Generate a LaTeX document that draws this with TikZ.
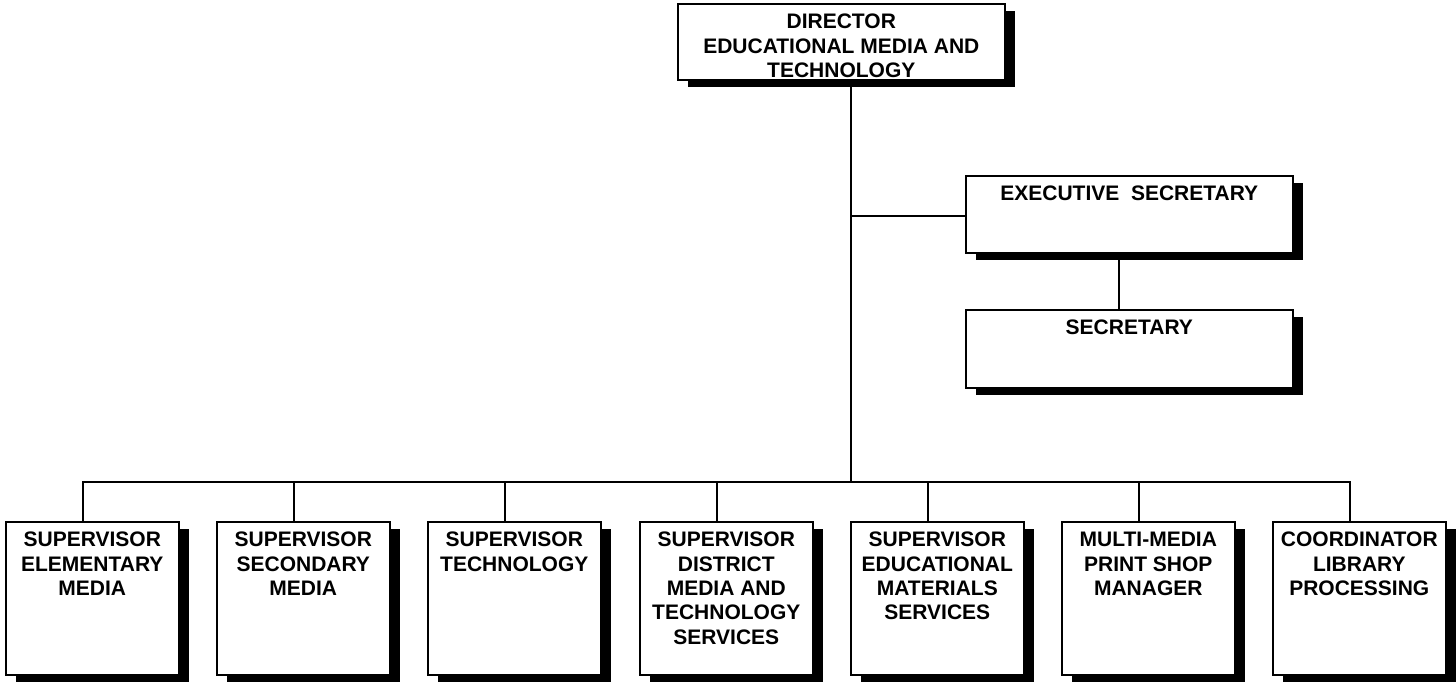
\documentclass[tikz,border=0pt]{standalone}
\usepackage{fontspec}
\setmainfont{Liberation Sans}
\usetikzlibrary{shadows}

% Box content: fixed-size, top-aligned, centred bold lines
\newcommand\unittext[3]{%
  \begin{minipage}[t][#2][t]{#1}\centering
    \fontsize{21}{24.3}\selectfont\bfseries
    \rule{0pt}{25pt}#3%
  \end{minipage}}

\tikzset{
  unit/.style={draw, line width=1.6pt, fill=white, inner sep=0pt,
    anchor=north west,
    drop shadow={shadow xshift=10.5pt, shadow yshift=-7pt, fill=black, opacity=1}},
  link/.style={line width=1.6pt},
}

\begin{document}
\begin{tikzpicture}[x=1pt, y=-1pt]
  \useasboundingbox (0,0) rectangle (1456,682);

  % Director and office staff
  \node[unit] (dir) at (677,3)
    {\unittext{327pt}{76pt}{DIRECTOR\\EDUCATIONAL MEDIA AND\\TECHNOLOGY}};
  \node[unit] (exec) at (965,175)
    {\unittext{327pt}{77pt}{EXECUTIVE\ \ SECRETARY}};
  \node[unit] (sec) at (965,309)
    {\unittext{327pt}{78pt}{SECRETARY}};

  % Supervisors and coordinators
  \node[unit] (b1) at (5,521)    {\unittext{173pt}{153pt}{SUPERVISOR\\ELEMENTARY\\MEDIA}};
  \node[unit] (b2) at (216,521)  {\unittext{173pt}{153pt}{SUPERVISOR\\SECONDARY\\MEDIA}};
  \node[unit] (b3) at (427,521)  {\unittext{173pt}{153pt}{SUPERVISOR\\TECHNOLOGY}};
  \node[unit] (b4) at (639,521)  {\unittext{173pt}{153pt}{SUPERVISOR\\DISTRICT\\MEDIA AND\\TECHNOLOGY\\SERVICES}};
  \node[unit] (b5) at (850,521)  {\unittext{173pt}{153pt}{SUPERVISOR\\EDUCATIONAL\\MATERIALS\\SERVICES}};
  \node[unit] (b6) at (1061,521) {\unittext{173pt}{153pt}{MULTI-MEDIA\\PRINT SHOP\\MANAGER}};
  \node[unit] (b7) at (1272,521) {\unittext{173pt}{153pt}{COORDINATOR\\LIBRARY\\PROCESSING}};

  % Trunk line and bus
  \coordinate (trunk) at ([xshift=9.5pt]dir.south);
  \coordinate (bus) at (0,482);
  \draw[link] (trunk) -- (trunk |- bus);
  \draw[link] ([yshift=-1.5pt]exec.west) -- ([yshift=-1.5pt]exec.west -| trunk);
  \draw[link] ([xshift=-10.5pt]exec.south) -- ([xshift=-10.5pt]sec.north);

  \draw[link] ([xshift=-9.5pt]b1.north) |- ([xshift=-9.5pt]b7.north |- bus)
    -- ([xshift=-9.5pt]b7.north);
  \foreach \b in {b2,b3,b4,b5,b6}
    \draw[link] ([xshift=-9.5pt]\b.north) -- ([xshift=-9.5pt]\b.north |- bus);
\end{tikzpicture}
\end{document}
